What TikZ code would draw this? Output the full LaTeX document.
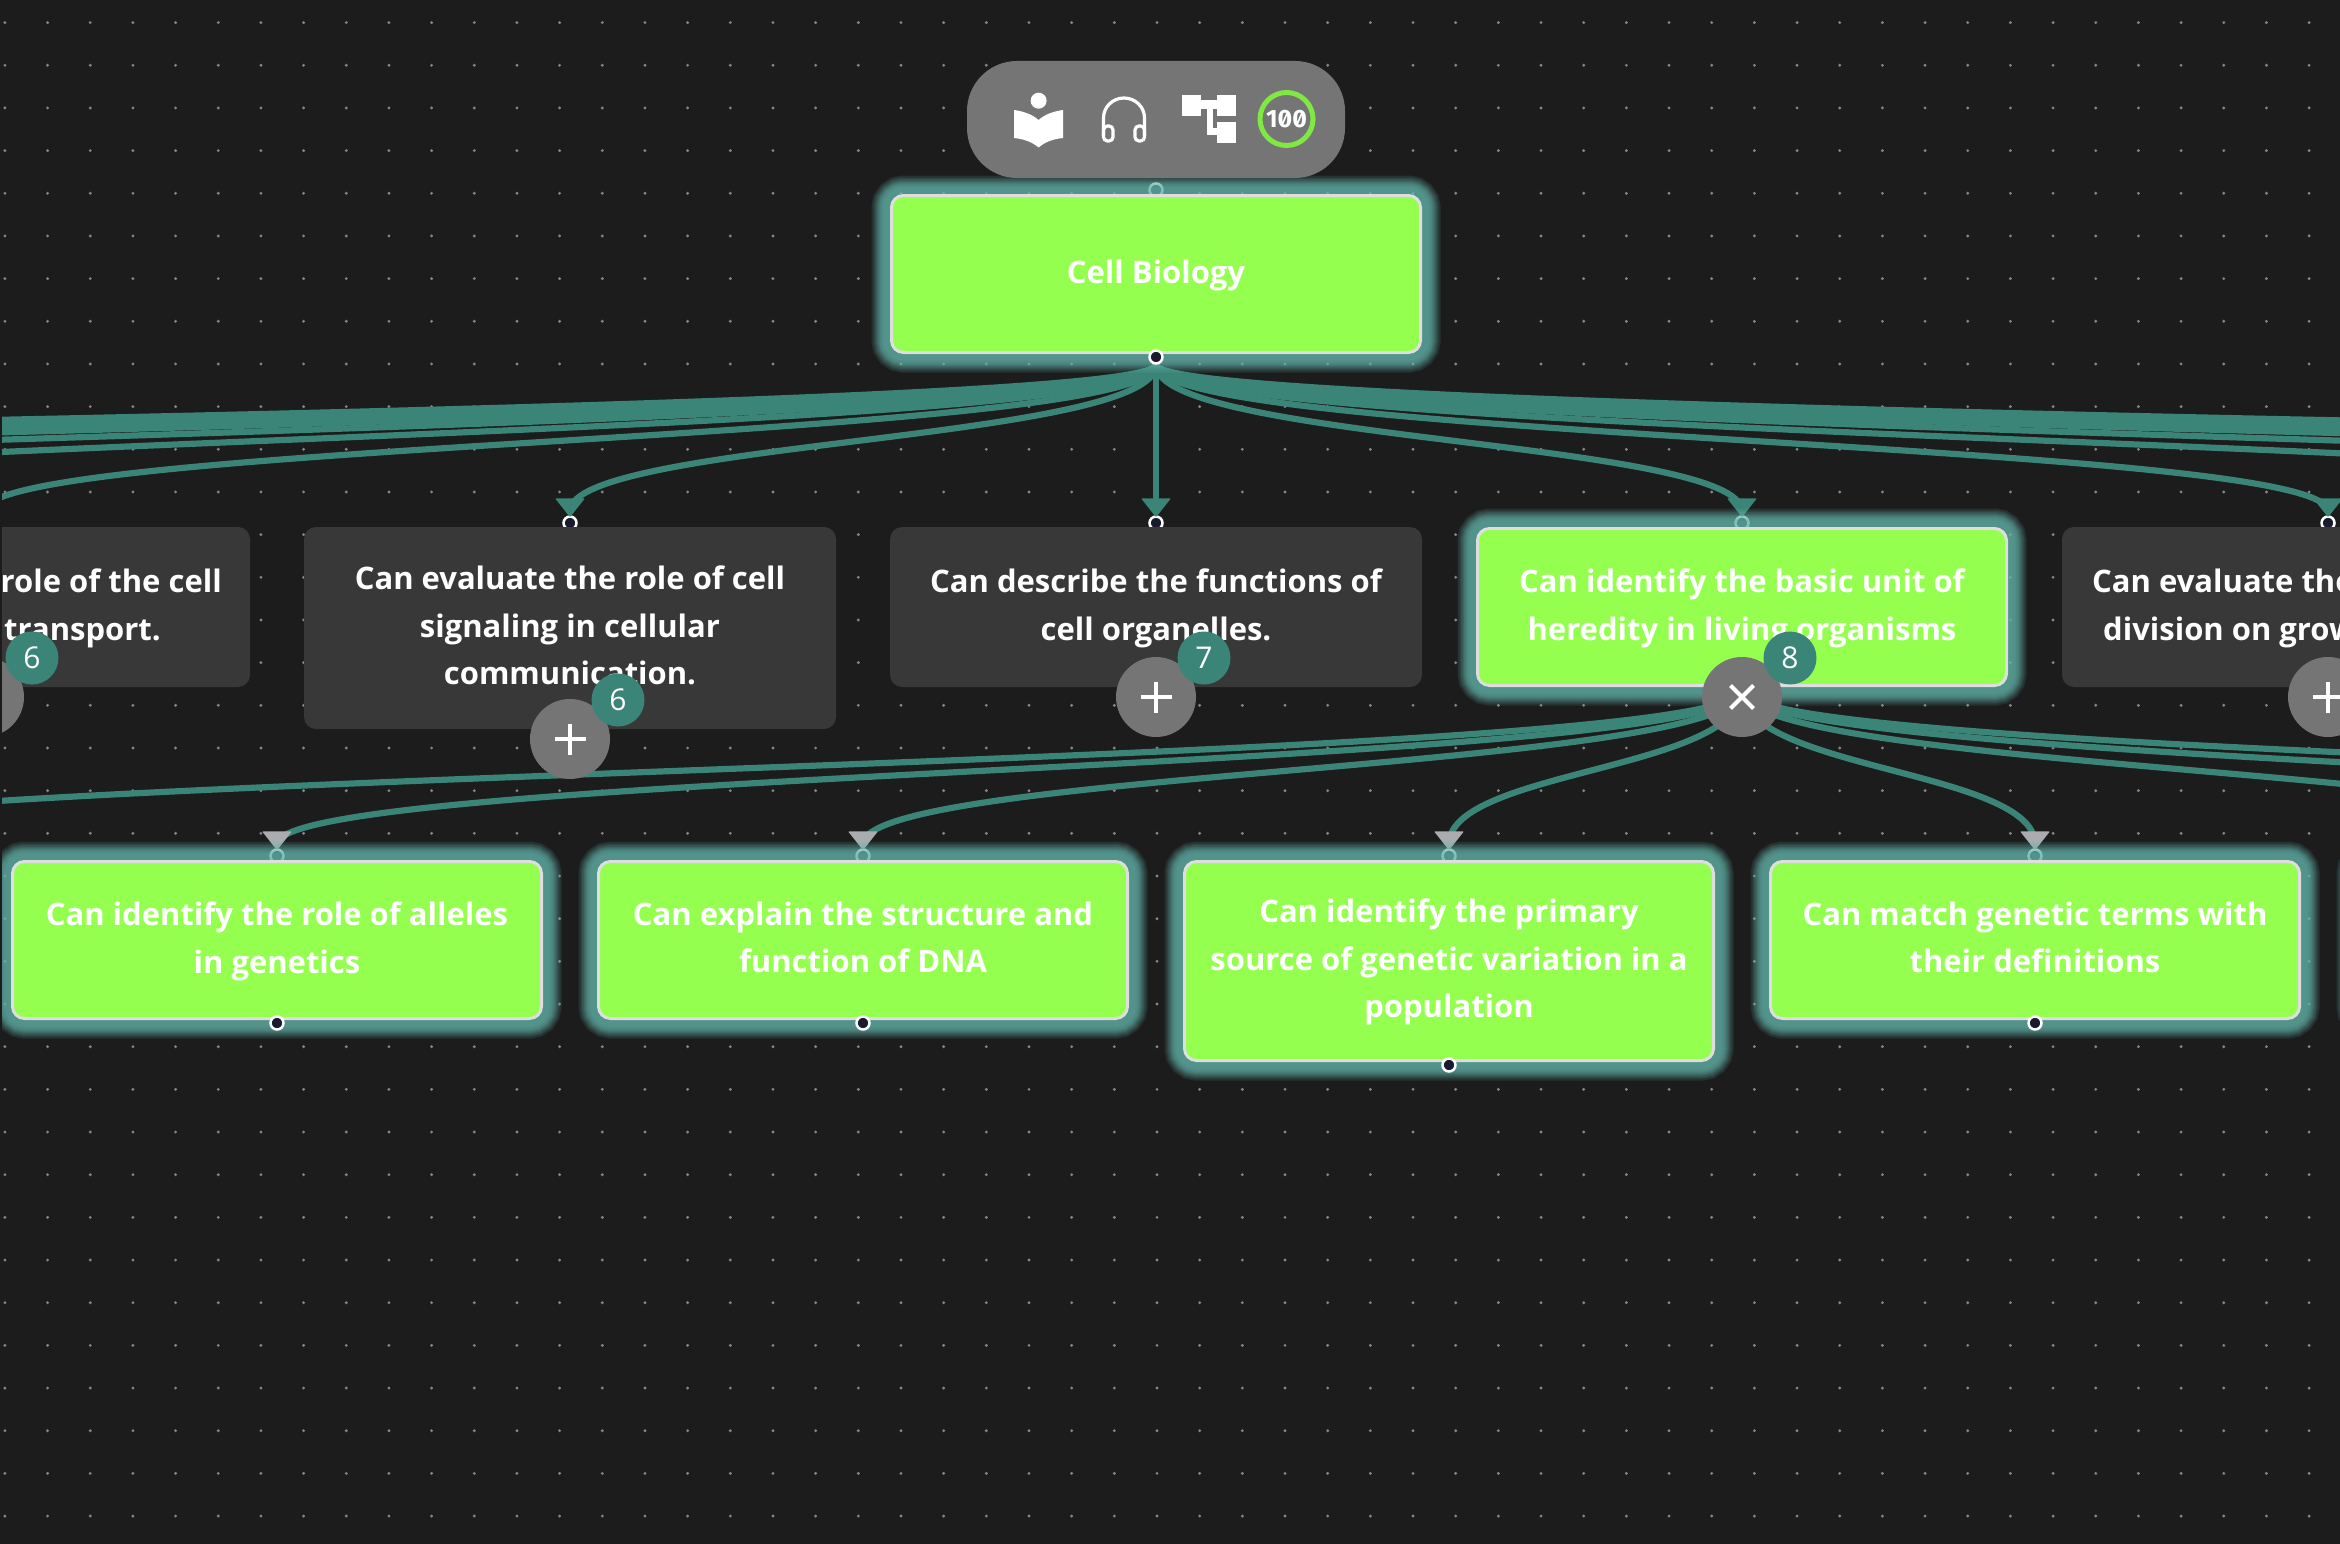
\documentclass[tikz,border=0pt]{standalone}
\usepackage{fontspec}
\setmainfont{Open Sans}
\newfontfamily\scorefont[Numbers=SlashedZero]{Fira Sans}
\usetikzlibrary{backgrounds}
\definecolor{pagebg}{HTML}{1C1C1C}
\definecolor{griddot}{HTML}{858585}
\definecolor{nodegreen}{HTML}{94FF4E}
\definecolor{nodedark}{HTML}{383838}
\definecolor{nodeline}{HTML}{DEDEDE}
\definecolor{edgeteal}{HTML}{3A8578}
\definecolor{glowteal}{HTML}{64B5AA}
\definecolor{tipgray}{HTML}{A9ADB0}
\definecolor{knobgray}{HTML}{757575}
\definecolor{handlefill}{HTML}{1A1A2E}
\definecolor{ringgreen}{HTML}{7FE843}
\tikzset{
  halo/.style={preaction={draw=glowteal,line width=#1,draw opacity=.15}},
  skillbox/.style={rectangle,rounded corners=12pt,minimum width=532pt,minimum height=160pt,inner sep=0pt,
    align=center,text=white,font=\fontsize{31}{47.7}\selectfont\bfseries,text depth=5.3pt},
  donebox/.style={skillbox,minimum width=529pt,minimum height=157pt,fill=nodegreen,draw=nodeline,line width=3pt,
    halo=40pt,halo=36pt,halo=33pt,halo=30pt,halo=28pt,halo=26pt,halo=24pt,halo=22pt,halo=19pt,halo=16pt},
  openbox/.style={skillbox,fill=nodedark},
  boxtext/.style={text=white,inner sep=0pt,font=\fontsize{31}{47.7}\selectfont\bfseries},
  handle/.style={circle,draw=white,fill=handlefill,line width=2.5pt,minimum size=13pt,inner sep=0pt},
  edgeline/.style={draw=edgeteal,line width=6.2pt,shorten >=6pt},
  knob/.style={circle,fill=knobgray,minimum size=80pt,inner sep=0pt},
  plusknob/.style={knob,path picture={
    \draw[white,line width=4pt] (path picture bounding box.center) ++(-15.5,0) -- ++(31,0)
      (path picture bounding box.center) ++(0,-15.5) -- ++(0,31);}},
  crossknob/.style={knob,path picture={
    \draw[white,line width=4pt] (path picture bounding box.center) ++(-11.5,-11.5) -- ++(23,23)
      (path picture bounding box.center) ++(-11.5,11.5) -- ++(23,-23);}},
  badge/.style={circle,fill=edgeteal,minimum size=53pt,inner sep=0pt,text=white,font=\fontsize{30}{30}\selectfont},
  icon/.style={fill=white,draw=none}
}
\newcommand{\bendedge}[3]{
  \path (#3.north) ++(0,2) coordinate (bendend);
  \path (#2) -- (bendend) coordinate[midway] (bendmid);
  \draw[edgeline] (#2) .. controls (#2 |- bendmid) and (bendend |- bendmid) .. (bendend);
  \fill[#1,rounded corners=1pt] (#3.north) ++(-15,-17) -- ++(30,0) -- ++(-15,19) -- cycle;
}
\begin{document}
\begin{tikzpicture}[x=1pt,y=-1pt]
  \useasboundingbox (0,0) rectangle (2340,1544);
  \clip (0,0) rectangle (2340,1544);
  % boxes of the second level
  \node[donebox] (bio) at (1156,274) {Cell Biology};
  \node[openbox] (transport) at (-16,607) {};
  \node[boxtext,anchor=base east] (transportA) at (222,592) {role of the cell};
  \node[boxtext,anchor=base east] (transportB) at (161,640) {n transport.};
  \node[openbox,minimum height=202pt] (signal) at (570,628) {Can evaluate the role of cell\\signaling in cellular\\communication.};
  \node[openbox] (organ) at (1156,607) {Can describe the functions of\\cell organelles.};
  \node[donebox] (heredity) at (1742,607) {Can identify the basic unit of\\heredity in living organisms};
  \node[openbox] (division) at (2328,607) {};
  \node[boxtext,anchor=base west] (divisionA) at (2092,592) {Can evaluate the};
  \node[boxtext,anchor=base west] (divisionB) at (2103,640) {division on grow};
  % boxes of the third level
  \node[donebox] (allele) at (277,940) {Can identify the role of alleles\\in genetics};
  \node[donebox] (dna) at (863,940) {Can explain the structure and\\function of DNA};
  \node[donebox,minimum height=199pt] (source) at (1449,961) {Can identify the primary\\source of genetic variation in a\\population};
  \node[donebox] (terms) at (2035,940) {Can match genetic terms with\\their definitions};
  \node[donebox] (nextterm) at (2621,940) {};
  % knobs and badges
  \node[plusknob] (knobT) at (-16,697) {};
  \node[badge] (countT) at (32,658) {6};
  \node[plusknob] (knobS) at (570,739) {};
  \node[badge] (countS) at (618,700) {6};
  \node[plusknob] (knobO) at (1156,697) {};
  \node[badge] (countO) at (1204,658) {7};
  \node[crossknob] (knobH) at (1742,697) {};
  \node[badge] (countH) at (1790,658) {8};
  \node[plusknob] (knobD) at (2328,697) {};
  % outgoing handles
  \node[handle] (bioOut) at (1156,357) {};
  \node[handle] (alleleOut) at (277,1023) {};
  \node[handle] (dnaOut) at (863,1023) {};
  \node[handle] (sourceOut) at (1449,1065) {};
  \node[handle] (termsOut) at (2035,1023) {};
  \coordinate (heredityOut) at (1742,690);
  % toolbar
  \node[rectangle,rounded corners=50pt,fill=knobgray,minimum width=378pt,minimum height=117pt,inner sep=0pt] (toolbar) at (1156,119.5) {};
  \fill[icon] (1038.6,100.7) circle (8);
  \fill[icon] (1014,110) .. controls (1022,111) and (1032,114) .. (1038.6,120) .. controls (1045,114) and (1055,111) .. (1063,110)
    -- (1063,138) .. controls (1053,139) and (1045,142) .. (1038.6,147.5) .. controls (1032,142) and (1024,139) .. (1014,138) -- cycle;
  \draw[white,line width=3.2pt] (1103.5,136) -- (1103.5,118) arc[start angle=180,end angle=0,x radius=20.5,y radius=-20]
    -- (1144.5,136);
  \draw[white,line width=3.2pt,rounded corners=4pt] (1103.5,126) -- (1113,126) -- (1113,141) -- (1103.5,141) -- cycle;
  \draw[white,line width=3.2pt,rounded corners=4pt] (1144.5,126) -- (1135,126) -- (1135,141) -- (1144.5,141) -- cycle;
  \fill[icon] (1182,95) rectangle (1201,116);
  \fill[icon] (1217,95) rectangle (1236,116);
  \fill[icon] (1217,122) rectangle (1236,143);
  \fill[icon] (1201,100) rectangle (1217,109);
  \fill[icon] (1207,109) rectangle (1213,135);
  \fill[icon] (1213,128) rectangle (1217,135);
  \node[circle,draw=ringgreen,line width=5pt,minimum size=53pt,inner sep=0pt,text=white,
    font=\fontsize{25}{25}\selectfont\bfseries\scorefont] (score) at (1286.5,119) {100};
  \begin{scope}[on background layer]
    \fill[pagebg] (0,0) rectangle (2340,1544);
    \fill[griddot] foreach \i in {0,...,54}{foreach \j in {0,...,35}{({4.9+42.67*\i},{22.6+42.67*\j}) circle (1.6)}};
    % incoming handles
    \node[handle] (bioIn) at (1156,190) {};
    \foreach \k in {-8,...,8}{
      \node[handle] (top\k) at ({1156+586*\k},523) {};
      \bendedge{edgeteal}{bioOut.south}{top\k}
    }
    \foreach \k in {-4,...,3}{
      \node[handle] (low\k) at ({1449+586*(\k+1)},856) {};
      \bendedge{tipgray}{heredityOut}{low\k}
    }
  \end{scope}
  \fill[pagebg] (0,0) rectangle (2,1544);
\end{tikzpicture}
\end{document}
